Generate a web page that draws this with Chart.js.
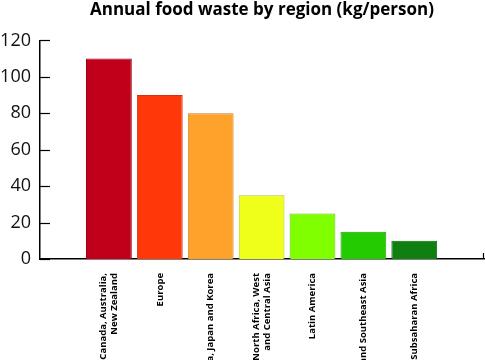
<!DOCTYPE html>
<html>
<head>
<meta charset="utf-8">
<script src="https://cdn.jsdelivr.net/npm/chart.js@4/dist/chart.umd.min.js"></script>
<style>
  html, body { margin: 0; padding: 0; background: #fff; }
  #wrap { width: 485px; height: 360px; position: relative; }
</style>
</head>
<body>
<div id="wrap"><canvas id="c" width="485" height="360"></canvas></div>
<script>
// ---- data ----
const regions = [
  ['USA, Canada, Australia,', 'New Zealand'],
  ['Europe'],
  ['China, Japan and Korea'],
  ['North Africa, West', 'and Central Asia'],
  ['Latin America'],
  ['South and Southeast Asia'],
  ['Subsaharan Africa']
];
const wasteKg = [110, 90, 80, 35, 25, 15, 10];
const yTicks = [0, 20, 40, 60, 80, 100, 120];

// ---- styles ----
const barColors = ['#c0001a', '#ff380a', '#ffa22b', '#efff1a', '#80ff00', '#22cc00', '#0f800f'];
const barBorders = ['#9a0015', '#d83008', '#c88020', '#b8c020', '#66c000', '#1ca000', '#0c660c'];
const labelFontSize = 9.5;
const labelLineHeight = 10.7;

const points = wasteKg.map((v, i) => ({ x: i, y: v }));

const axisPlugin = {
  id: 'axisTweaks',
  beforeDraw(chart) {
    // center multi-line rotated category labels on their bars
    const xs = chart.scales.x;
    const items = xs.getLabelItems(chart.chartArea);
    items.forEach(it => {
      if (!it._centered && Array.isArray(it.label) && it.label.length > 1) {
        it.options.translation[0] -= (it.label.length - 1) * labelLineHeight / 2;
        it._centered = true;
      }
    });
  },
  afterDraw(chart) {
    const ctx = chart.ctx;
    const ys = chart.scales.y;
    const xs = chart.scales.x;
    ctx.save();
    ctx.strokeStyle = '#000';
    ctx.lineWidth = 1.2;
    ys.ticks.forEach((t, i) => {
      const py = Math.round(ys.getPixelForTick(i)) + 0.5;
      ctx.beginPath();
      ctx.moveTo(ys.right, py);
      ctx.lineTo(ys.right + 10, py);
      ctx.stroke();
    });
    const px = Math.round(xs.right) - 0.5;
    ctx.beginPath();
    ctx.moveTo(px, xs.top);
    ctx.lineTo(px, xs.top - 6);
    ctx.stroke();
    ctx.restore();
  }
};

new Chart(document.getElementById('c'), {
  type: 'bar',
  data: {
    datasets: [{
      data: points,
      backgroundColor: barColors,
      borderColor: barBorders,
      borderWidth: 1,
      categoryPercentage: 1,
      barPercentage: 0.9
    }]
  },
  options: {
    responsive: false,
    animation: false,
    devicePixelRatio: 1,
    layout: { padding: { left: 0, right: 1, top: 0, bottom: 0 } },
    plugins: {
      legend: { display: false },
      tooltip: { enabled: false },
      title: {
        display: true,
        fullSize: false,
        text: 'Annual food waste by region (kg/person)',
        color: '#000',
        font: { family: '"Open Sans"', size: 17, weight: 'bold' },
        padding: { top: 0, bottom: 20 }
      }
    },
    scales: {
      x: {
        type: 'linear',
        min: -1.354,
        max: 7.37,
        offset: false,
        grid: { display: false, drawTicks: false },
        border: { display: true, color: '#000', width: 1.5 },
        afterBuildTicks(scale) {
          scale.ticks = regions.map((_, i) => ({ value: i }));
        },
        afterFit(scale) { scale.height = 101; },
        ticks: {
          autoSkip: false,
          minRotation: 90,
          maxRotation: 90,
          padding: 14,
          color: '#000',
          font: { family: '"Open Sans"', size: labelFontSize, weight: 'bold', lineHeight: labelLineHeight / labelFontSize },
          callback: (v) => regions[v] || ''
        }
      },
      y: {
        min: 0,
        max: 120,
        grid: { display: false, drawTicks: false },
        border: { display: true, color: '#000', width: 1.5 },
        afterBuildTicks(scale) {
          scale.ticks = yTicks.map(v => ({ value: v }));
        },
        afterFit(scale) { scale.width = 40; },
        ticks: {
          padding: 9,
          color: '#111',
          font: { family: '"Open Sans"', size: 18 }
        }
      }
    }
  },
  plugins: [axisPlugin]
});
</script>
</body>
</html>
